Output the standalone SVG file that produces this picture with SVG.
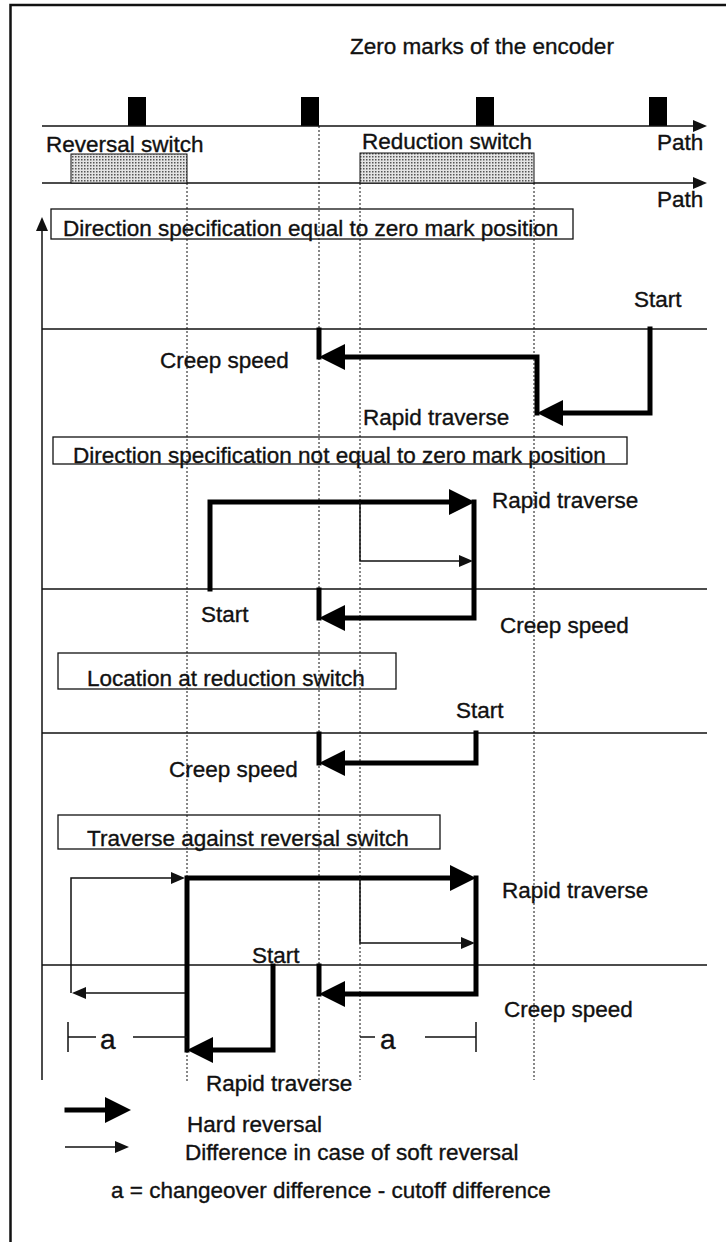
<svg xmlns="http://www.w3.org/2000/svg" width="726" height="1242" viewBox="0 0 726 1242">
<style>
text{font-family:"Liberation Sans",Arial,sans-serif;font-size:22.5px;fill:#111;stroke:#111;stroke-width:0.35}
.big{font-size:28px}
.frame{stroke:#111;stroke-width:2.5;fill:none}
.axis{stroke:#111;stroke-width:1.5;fill:none}
.dot{stroke:#111;stroke-width:1;stroke-dasharray:2 2;fill:none}
.box{stroke:#111;stroke-width:1.3;fill:none}
.bold{stroke:#000;stroke-width:5;fill:none;stroke-linecap:square;stroke-linejoin:miter}
.thin{stroke:#111;stroke-width:1.5;fill:none}
.mark{fill:#000}
.sw{fill:url(#hatch);stroke:#111;stroke-width:1}
</style>
<defs>
<pattern id="hatch" width="3" height="3" patternUnits="userSpaceOnUse">
<rect width="3" height="3" fill="#e4e4e4"/>
<rect width="1.5" height="1.5" fill="#555"/>
</pattern>
<marker id="hard" markerUnits="userSpaceOnUse" markerWidth="26" markerHeight="26" viewBox="0 0 26 26" refX="16" refY="13" orient="auto">
<path d="M0,0 L26,13 L0,26 z" fill="#000"/>
</marker>
<marker id="soft" markerUnits="userSpaceOnUse" markerWidth="14" markerHeight="12" viewBox="0 0 14 12" refX="9" refY="6" orient="auto">
<path d="M0,0 L14,6 L0,12 z" fill="#111"/>
</marker>
</defs>

<g id="frame">
<path class="frame" d="M10.5,1242 V5 H726"/>
</g>

<g id="title"><text x="350" y="54">Zero marks of the encoder</text></g>

<g id="zero-marks">
<rect class="mark" x="128" y="97" width="18" height="29"/>
<rect class="mark" x="301" y="97" width="18" height="29"/>
<rect class="mark" x="476" y="97" width="18" height="29"/>
<rect class="mark" x="649" y="97" width="18" height="29"/>
</g>

<g id="path-axes">
<path class="axis" d="M42,126 H702" marker-end="url(#soft)"/>
<path class="axis" d="M42,183 H702" marker-end="url(#soft)"/>
<text x="657" y="150">Path</text>
<text x="657" y="207">Path</text>
<path class="axis" d="M42,1080 V222" marker-end="url(#soft)"/>
</g>

<g id="reversal-switch">
<rect class="sw" x="71" y="154" width="116" height="29"/>
<text x="46" y="152">Reversal switch</text>
</g>
<g id="reduction-switch">
<rect class="sw" x="360" y="153" width="174" height="30"/>
<text x="362" y="149">Reduction switch</text>
</g>

<g id="guides">
<path class="dot" d="M187,183 V1082"/>
<path class="dot" d="M319,126 V1080"/>
<path class="dot" d="M360,183 V1080"/>
<path class="dot" d="M534,183 V1080"/>
</g>

<g id="baselines">
<path class="axis" d="M42,329 H707"/>
<path class="axis" d="M42,589 H707"/>
<path class="axis" d="M42,733 H707"/>
<path class="axis" d="M42,965 H707"/>
</g>

<g id="case1">
<rect class="box" x="51" y="209" width="522" height="30"/>
<text x="63" y="236">Direction specification equal to zero mark position</text>
<text x="634" y="307">Start</text>
<text x="160" y="368">Creep speed</text>
<text x="363" y="425">Rapid traverse</text>
</g>

<g id="case2">
<rect class="box" x="53" y="437" width="574" height="27"/>
<text x="73" y="463">Direction specification not equal to zero mark position</text>
<text x="492" y="508">Rapid traverse</text>
<text x="201" y="622">Start</text>
<text x="500" y="633">Creep speed</text>
</g>

<g id="case3">
<rect class="box" x="58" y="653" width="338" height="36"/>
<text x="87" y="686">Location at reduction switch</text>
<text x="456" y="718">Start</text>
<text x="169" y="777">Creep speed</text>
</g>

<g id="case4">
<rect class="box" x="58" y="815" width="382" height="34"/>
<text x="87" y="846">Traverse against reversal switch</text>
<text x="502" y="898">Rapid traverse</text>
<text x="252" y="963">Start</text>
<text x="504" y="1017">Creep speed</text>
<text x="206" y="1091">Rapid traverse</text>
<text class="big" x="100" y="1049">a</text>
<text class="big" x="380" y="1049">a</text>
</g>

<g id="connectors">
<path class="bold" d="M650,329 V413 H547" marker-end="url(#hard)"/>
<path class="bold" d="M537,413 V357 H329" marker-end="url(#hard)"/>
<path class="bold" d="M319,357 V330"/>

<path class="bold" d="M210,589 V502 H465" marker-end="url(#hard)"/>
<path class="bold" d="M474,502 V618 H329" marker-end="url(#hard)"/>
<path class="bold" d="M319,618 V590"/>
<path class="thin" d="M360,502 V561 H468" marker-end="url(#soft)"/>

<path class="bold" d="M476,733 V763 H329" marker-end="url(#hard)"/>
<path class="bold" d="M319,763 V734"/>

<path class="bold" d="M273,966 V1050 H197" marker-end="url(#hard)"/>
<path class="bold" d="M187,1050 V878 H466" marker-end="url(#hard)"/>
<path class="bold" d="M476,878 V994 H329" marker-end="url(#hard)"/>
<path class="bold" d="M319,994 V966"/>
<path class="thin" d="M185,993 H77" marker-end="url(#soft)"/>
<path class="thin" d="M71,993 V878 H180" marker-end="url(#soft)"/>
<path class="thin" d="M360,878 V943 H470" marker-end="url(#soft)"/>

<path class="thin" d="M68,1022 V1052 M68,1037 H96 M133,1037 H187"/>
<path class="thin" d="M360,1037 H375 M425,1037 H476 M476,1022 V1052"/>
</g>

<g id="legend">
<path class="bold" d="M67,1110 H121" stroke-linecap="butt" marker-end="url(#hard)"/>
<text x="187" y="1132">Hard reversal</text>
<path class="thin" d="M65,1147 H124" marker-end="url(#soft)"/>
<text x="185" y="1160">Difference in case of soft reversal</text>
<text x="111" y="1198">a = changeover difference - cutoff difference</text>
</g>
</svg>
